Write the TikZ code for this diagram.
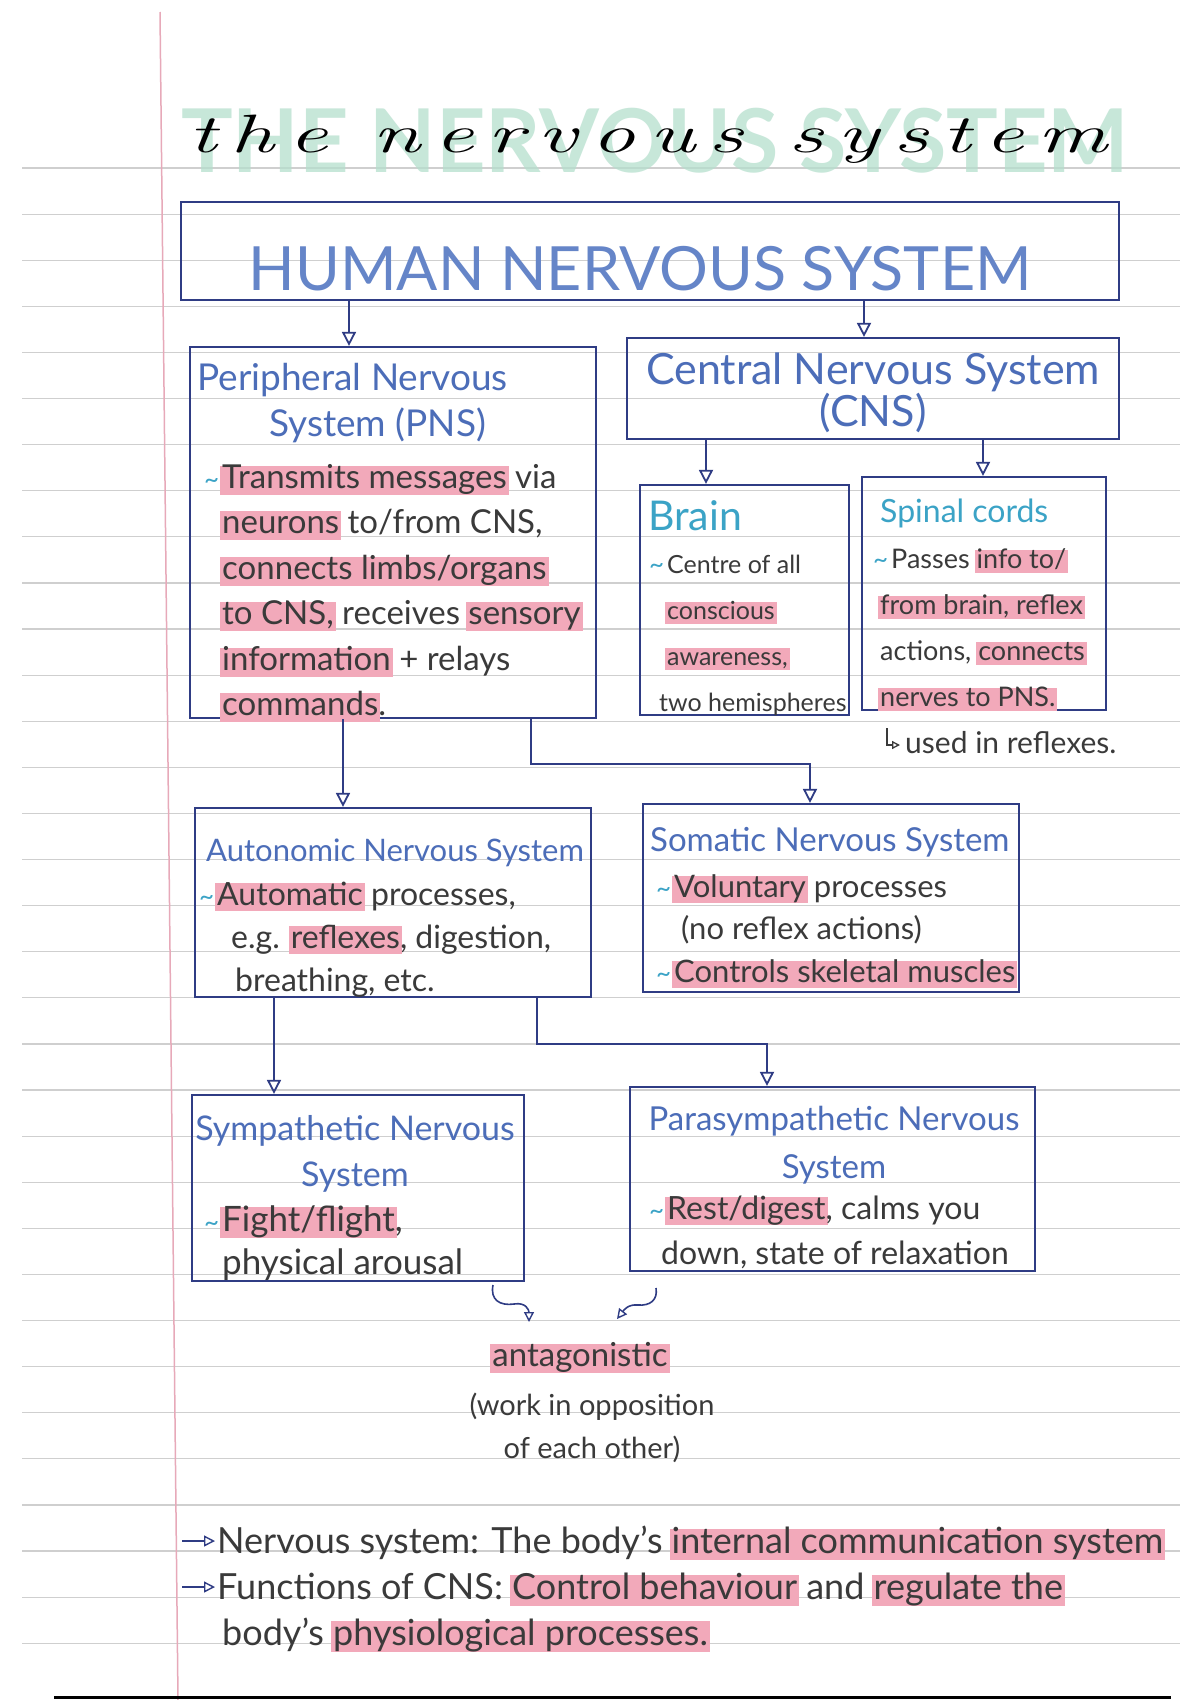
\documentclass[tikz,border=0pt]{standalone}
\usepackage{fontspec}
\usepackage{graphicx}
\newfontfamily\hand{Lato}
\newfontfamily\cursive{Latin Modern Roman}[LetterSpace=16]
\usetikzlibrary{arrows.meta,fit}
\definecolor{navy}{HTML}{2F3C84}
\definecolor{ttlblue}{HTML}{4C6DB8}
\definecolor{humblue}{HTML}{6585C8}
\definecolor{tealc}{HTML}{3BA3C6}
\definecolor{ink}{HTML}{3A3A3A}
\definecolor{hlpink}{HTML}{F2A9BA}
\definecolor{rulec}{HTML}{CFCFCF}
\definecolor{marg}{HTML}{E7A9B9}
\definecolor{greenbg}{HTML}{B5DFCD}
\newcommand\hlt[1]{\setbox0=\hbox{#1}\rlap{\kern-2pt\textcolor{hlpink}{\rule[-0.2em]{\dimexpr\wd0+4pt\relax}{0.88em}}}\box0\relax}
\newcommand\tld{\textcolor{tealc}{\fontsize{26}{26}\selectfont\char"007E}\kern3pt}
\begin{document}
\begin{tikzpicture}[x=1pt,y=-1pt,
  box/.style={draw=navy, line width=2.2pt, inner sep=0pt},
  arr/.style={draw=navy, line width=2pt, -{Triangle[open,length=14pt,width=14pt,line width=1.8pt]}},
  sq/.style={draw=navy, line width=1.6pt, -{Triangle[open,length=10pt,width=10pt,line width=1.4pt]}},
  bul/.style={draw=navy, line width=1.5pt, -{Triangle[open,length=11pt,width=11pt,line width=1.4pt]}},
  ttl/.style={anchor=base west, inner sep=0pt, text=ttlblue, align=left},
  ttlc/.style={anchor=base, inner sep=0pt, text=ttlblue, align=center},
  bod/.style={anchor=base west, inner sep=0pt, text=ink, align=left},
  bodc/.style={anchor=base, inner sep=0pt, text=ink, align=center}]
\fill[white] (0,0) rectangle (1200,1700);
\useasboundingbox (0,0) rectangle (1200,1700);
% ruled paper
\foreach \k in {0,...,32} \draw[rulec, line width=1.2pt] (22,{168+46.1*\k}) -- (1180,{168+46.1*\k});
\draw[marg, line width=1.5pt] (160,12) -- (178,1700);
\draw[black, line width=3pt] (54,1697) -- (1171,1697);
% title
\node[anchor=base, inner sep=0pt, text=greenbg, opacity=.75] (tbg) at (655,172) {\scalebox{0.98}[1]{\hand\bfseries\fontsize{88}{88}\selectfont THE NERVOUS SYSTEM}};
\node[anchor=base, inner sep=0pt, text=black] (ttl) at (648,152) {\scalebox{1.62}[1]{\cursive\itshape\fontsize{54}{54}\selectfont the nervous system}};
% boxes
\node[box, fit={(181,202) (1119,300)}] (hns) {};
\node[box, fit={(190,347) (596,718)}] (pns) {};
\node[box, fit={(627,338) (1119,439)}] (cns) {};
\node[box, fit={(640,485) (849,715)}] (brain) {};
\node[box, fit={(862,477) (1106,710)}] (spinal) {};
\node[box, fit={(195,808) (591,997)}] (auto) {};
\node[box, fit={(643,804) (1019,992)}] (soma) {};
\node[box, fit={(192,1095) (524,1281)}] (symp) {};
\node[box, fit={(630,1087) (1035,1271)}] (para) {};
% texts (multi-line nodes are placed by the baseline of their last line)
\node[anchor=base, inner sep=0pt, text=humblue] (hnst) at (640,290) {\hand\fontsize{61}{61}\selectfont HUMAN NERVOUS SYSTEM};
\node[ttl, font=\hand\fontsize{37}{46}\selectfont] (pnst) at (197,436) {Peripheral Nervous\\\hspace*{72pt}System (PNS)};
\node[bod, font=\hand\fontsize{33}{45.5}\selectfont] (pnsb) at (222,715.5) {\llap{\tld}\hlt{Transmits messages} via\\\hlt{neurons} to/from CNS,\\\hlt{connects limbs/organs}\\\hlt{to CNS,} receives \hlt{sensory}\\\hlt{information} + relays\\\hlt{commands}.};
\node[ttlc, font=\hand\fontsize{43}{38}\selectfont] (cnst) at (873,426) {Central Nervous System\\(CNS)};
\node[ttl, text=tealc, font=\hand\fontsize{41}{41}\selectfont] (brt) at (648,530) {Brain};
\node[bod, font=\hand\fontsize{25}{46}\selectfont] (brb) at (667,711) {\llap{\tld}Centre of all\\\hlt{conscious}\\\hlt{awareness,}\\\hspace*{-8pt}two hemispheres};
\node[ttl, text=tealc, font=\hand\fontsize{32}{32}\selectfont] (spt) at (880,522) {Spinal cords};
\node[bod, font=\hand\fontsize{27}{46}\selectfont] (spb) at (891,706) {\llap{\tld}Passes \hlt{info to/}\\\hspace*{-11pt}\hlt{from brain, reflex}\\\hspace*{-11pt}actions, \hlt{connects}\\\hspace*{-11pt}\hlt{nerves to PNS.}};
\coordinate (hk1) at (887,728);
\coordinate (hk2) at (900,745);
\draw[draw=ink, line width=1.3pt, -{Triangle[open,length=8pt,width=8pt]}] (hk1) |- (hk2);
\node[bod, font=\hand\fontsize{30}{30}\selectfont] (refl) at (905,753) {used in reflexes.};
\node[ttl, font=\hand\fontsize{31}{31}\selectfont] (autt) at (206,861) {Autonomic Nervous System};
\node[bod, font=\hand\fontsize{32}{43}\selectfont] (autb) at (217,991) {\llap{\tld}\hlt{Automatic} processes,\\\hspace*{14pt}e.g. \hlt{reflexes}, digestion,\\\hspace*{18pt}breathing, etc.};
\node[ttl, font=\hand\fontsize{33}{33}\selectfont] (somt) at (650,851) {Somatic Nervous System};
\node[bod, font=\hand\fontsize{31}{42.5}\selectfont] (somb) at (674,982) {\llap{\tld}\hlt{Voluntary} processes\\\hspace*{7pt}(no reflex actions)\\\llap{\tld}\hlt{Controls skeletal muscles}};
\node[ttlc, font=\hand\fontsize{34}{46}\selectfont] (symt) at (355,1186) {Sympathetic Nervous\\System};
\node[bod, font=\hand\fontsize{35}{43}\selectfont] (symb) at (222,1274) {\llap{\tld}\hlt{Fight/flight},\\physical arousal};
\node[ttlc, font=\hand\fontsize{33}{48}\selectfont] (part) at (834,1178) {Parasympathetic Nervous\\System};
\node[bod, font=\hand\fontsize{32}{45}\selectfont] (parb) at (667,1264) {\llap{\tld}\hlt{Rest/digest}, calms you\\\hspace*{-6pt}down, state of relaxation};
% antagonistic
\node[bodc, font=\hand\fontsize{33}{33}\selectfont] (anta) at (580,1366) {\hlt{antagonistic}};
\node[bodc, font=\hand\fontsize{29}{43}\selectfont] (opp) at (592,1458) {(work in opposition\\of each other)};
% notes
\node[bod, font=\hand\fontsize{36}{46}\selectfont] (notes) at (217,1645) {Nervous system: The body’s \hlt{internal communication system}\\Functions of CNS: \hlt{Control behaviour} and \hlt{regulate the}\\\hspace*{5pt}body’s \hlt{physiological processes.}};
\coordinate (b1s) at (182,1541);
\coordinate (b1e) at (215,1541);
\coordinate (b2s) at (182,1587);
\coordinate (b2e) at (215,1587);
\draw[bul] (b1s) -- (b1e);
\draw[bul] (b2s) -- (b2e);
% connectors
\coordinate (xa) at (349,0);
\coordinate (xb) at (864,0);
\coordinate (xc) at (706,0);
\coordinate (xd) at (983,0);
\coordinate (xe) at (343,0);
\coordinate (j1) at (531,764);
\coordinate (xg) at (810,0);
\coordinate (xh) at (274,0);
\coordinate (j2) at (537,1044);
\coordinate (xj) at (767,0);
\draw[arr] (hns.south -| xa) -- (pns.north -| xa);
\draw[arr] (hns.south -| xb) -- (cns.north -| xb);
\draw[arr] (cns.south -| xc) -- (brain.north -| xc);
\draw[arr] (cns.south -| xd) -- (spinal.north -| xd);
\draw[arr] (pns.south -| xe) -- (auto.north -| xe);
\draw[arr] (pns.south -| j1) -- (j1) -| (soma.north -| xg);
\draw[arr] (auto.south -| xh) -- (symp.north -| xh);
\draw[arr] (auto.south -| j2) -- (j2) -| (para.north -| xj);
% squiggles
\coordinate (s1) at (493,1285);
\coordinate (s2) at (529,1322);
\coordinate (s3) at (656,1288);
\coordinate (s4) at (617,1319);
\draw[sq] (s1) .. controls (490,1300) and (500,1306) .. (514,1304) .. controls (526,1302) and (529,1310) .. (s2);
\draw[sq] (s3) .. controls (658,1300) and (650,1306) .. (638,1305) .. controls (628,1304) and (624,1310) .. (s4);
\end{tikzpicture}
\end{document}
